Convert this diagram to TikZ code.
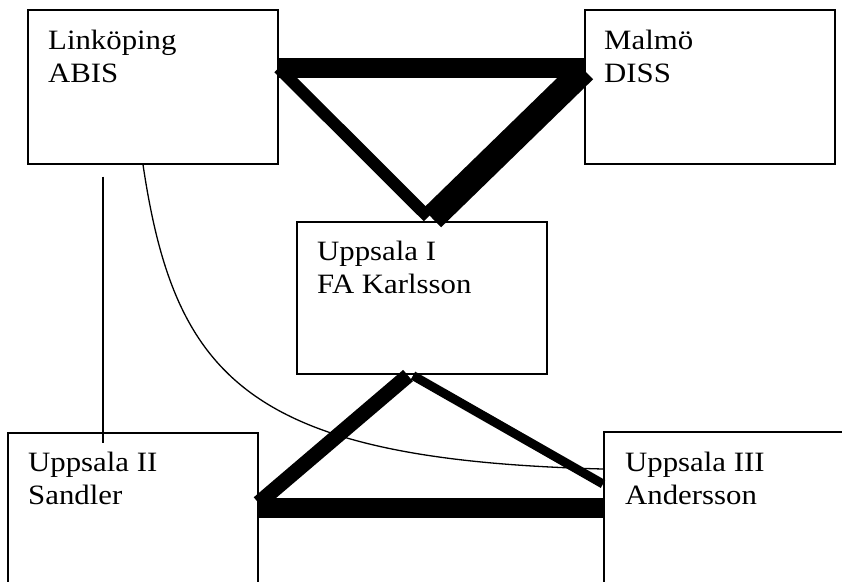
\documentclass[tikz,border=0pt]{standalone}
\usepackage{fontspec}
\setmainfont{Liberation Serif}[FakeStretch=1.1]
\usetikzlibrary{calc}
\tikzset{
  site/.style={draw, line width=1.6pt, inner sep=0pt, anchor=north west,
               minimum width=250pt, minimum height=154pt},
  % the base anchor of a two-line name sits on its second line
  sitename/.style={anchor=base west, align=left, inner sep=0pt,
                   font=\fontsize{28}{33}\selectfont},
  thin link/.style={line width=1.3pt},
  heavy/.style={line width=#1, line cap=butt, line join=miter}
}
\begin{document}
\begin{tikzpicture}[x=1pt, y=-1pt]
  \useasboundingbox (0,0) rectangle (842,581);
  \clip (0,0) rectangle (842,581);

  % sites
  \node[site] (lk) at (27,9) {};
  \node[site] (ml) at (584,9) {};
  \node[site, minimum height=152pt] (u1) at (296,221) {};
  \node[site, minimum height=200pt] (u2) at (7,432) {};
  \node[site, minimum height=200pt] (u3) at (603,431) {};

  % site names
  \node[sitename] (lkt) at ($(lk.north west)+(21,73)$) {Linköping\\ABIS};
  \node[sitename] (mlt) at ($(ml.north west)+(20,73)$) {Malmö\\DISS};
  \node[sitename] (u1t) at ($(u1.north west)+(21,72)$) {Uppsala I\\FA Karlsson};
  \node[sitename] (u2t) at ($(u2.north west)+(21,72)$) {Uppsala II\\Sandler};
  \node[sitename] (u3t) at ($(u3.north west)+(22,73)$) {Uppsala III\\Andersson};

  % thin links
  \coordinate (vtop) at ($(lk.south west)+(76,12)$);
  \coordinate (vbot) at ($(u2.north west)+(96,11)$);
  \draw[thin link] (vtop) -- (vbot);
  \coordinate (cstart) at ($(lk.south west)+(116,0)$);
  \coordinate (cend) at ($(u3.north west)+(0,38)$);
  \draw[thin link] (cstart) .. controls (175,380) and (250,460) .. (cend);

  % heavy links, upper triangle
  \coordinate (lkE) at ($(lk.north east)+(0,59)$);
  \coordinate (mlW) at ($(ml.north west)+(0,59)$);
  \coordinate (mlW2) at ($(ml.north west)+(0,61)$);
  \coordinate (u1a) at ($(u1.north west)+(132,-4)$);
  \coordinate (u1b) at ($(u1.north west)+(136,-3)$);
  \draw[heavy=20pt] (lkE) -- (mlW);
  \draw[heavy=12pt] (lkE) -- (u1a);
  \draw[heavy=26pt] (mlW2) -- (u1b);

  % heavy links, lower triangle
  \coordinate (u2E) at ($(u2.north east)+(0,76)$);
  \coordinate (u2E2) at ($(u2.north east)+(0,71)$);
  \coordinate (u3W) at ($(u3.north west)+(0,77)$);
  \coordinate (u3W2) at ($(u3.north west)+(0,53)$);
  \coordinate (u1c) at ($(u1.south west)+(112,1)$);
  \coordinate (u1d) at ($(u1.south west)+(117,1)$);
  \draw[heavy=20pt] (u2E) -- (u3W);
  \draw[heavy=15pt] (u2E2) -- (u1c);
  \draw[heavy=9pt] (u1d) -- (u3W2);
\end{tikzpicture}
\end{document}
